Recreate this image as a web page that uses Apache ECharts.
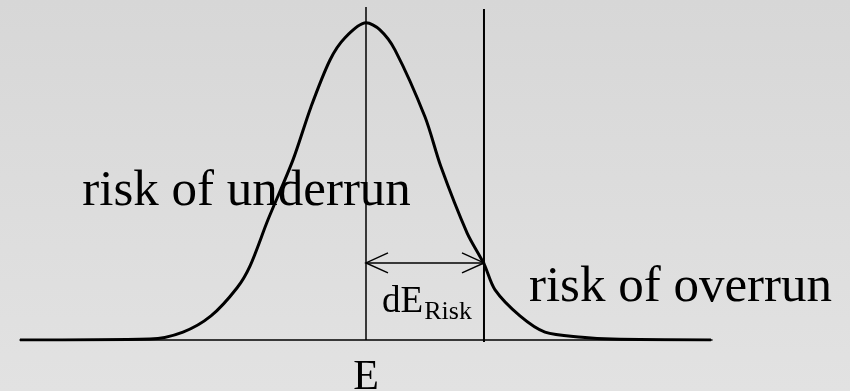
<html>
<head>
    <meta charset="UTF-8">
    <title>Risk of underrun / overrun</title>
    <script src="https://cdn.jsdelivr.net/npm/echarts@6/dist/echarts.min.js"></script>
    <style>
        body {
            padding: 0;
            margin: 0;
            overflow: hidden;
        }
        #chart {
            width: 850px;
            height: 391px;
        }
    </style>
</head>
<body>
<div id="chart"></div>

<script>
    // estimate E at 0, x in "sigma-ish" units, y = relative density (peak = 1)
    const curveX = [-3.0, -1.873, -1.587, -1.344, -1.119, -1.006, -0.850, -0.633, -0.477, -0.312, -0.182, 0,
        0.121, 0.251, 0.512, 0.650, 0.876, 1.023, 1.119, 1.335, 1.552, 1.873, 2.133, 2.991];
    const curveY = [0, 0.003, 0.025, 0.076, 0.164, 0.233, 0.379, 0.568, 0.735, 0.883, 0.953, 1.0,
        0.978, 0.915, 0.703, 0.546, 0.338, 0.240, 0.158, 0.076, 0.025, 0.009, 0.003, 0];
    const estimate = 0;          // E
    const dERisk = 1.023;        // distance from E to the right line
    const arrowLevel = 0.243;
    const eLineTop = 1.05;
    const riskLineTop = 1.044;
    const axisLabels = ['E'];
    const labelTexts = ['risk of underrun', 'risk of overrun', 'dE', 'Risk'];

    const ec = echarts.init(document.getElementById('chart'));
    const serif = '"Liberation Serif", "Times New Roman", serif';

    function textSeries(name, x, y, size) {
        return {
            type: 'scatter',
            symbolSize: 0,
            silent: true,
            clip: false,
            itemStyle: {opacity: 1},
            data: [{name: name, value: [x, y]}],
            label: {
                show: true,
                position: [0, 0],
                align: 'left',
                verticalAlign: 'middle',
                formatter: '{b}',
                color: '#000',
                opacity: 1,
                fontFamily: serif,
                fontSize: size
            }
        };
    }

    const option = {
        animation: false,
        backgroundColor: {
            type: 'linear', x: 0, y: 0, x2: 0, y2: 1,
            colorStops: [
                {offset: 0, color: '#d7d7d7'},
                {offset: 1, color: '#e2e2e2'}
            ]
        },
        grid: {left: 20, right: 138, top: 7, bottom: 51, outerBoundsMode: 'none', containLabel: false},
        xAxis: {
            type: 'value',
            min: -3,
            max: 3,
            splitLine: {show: false},
            axisTick: {show: false},
            axisLine: {show: true, lineStyle: {color: '#000', width: 1.5}},
            axisLabel: {
                customValues: [estimate],
                formatter: () => axisLabels[0],
                color: '#000',
                fontFamily: serif,
                fontSize: 42,
                margin: 17
            }
        },
        yAxis: {
            type: 'value',
            min: 0,
            max: 1.05,
            show: false
        },
        series: [
            {
                type: 'line',
                data: curveX.map((x, i) => [x, curveY[i]]),
                smooth: 0.3,
                symbol: 'none',
                lineStyle: {color: '#000', width: 3}
            },
            {
                type: 'line',
                data: [[estimate, 0], [estimate, eLineTop]],
                symbol: 'none',
                lineStyle: {color: '#000', width: 1.5}
            },
            {
                type: 'line',
                data: [[estimate + dERisk, -0.006], [estimate + dERisk, riskLineTop]],
                symbol: 'none',
                clip: false,
                lineStyle: {color: '#000', width: 2}
            },
            {
                type: 'custom',
                encode: {x: [0, 1], y: 2},
                data: [[estimate, estimate + dERisk, arrowLevel]],
                renderItem: function (params, api) {
                    const a = api.coord([api.value(0), api.value(2)]);
                    const b = api.coord([api.value(1), api.value(2)]);
                    const st = {stroke: '#000', fill: null, lineWidth: 1.5};
                    return {
                        type: 'group',
                        children: [
                            {type: 'line', shape: {x1: a[0], y1: a[1], x2: b[0], y2: b[1]}, style: st},
                            {type: 'polyline', shape: {points: [[a[0] + 22, a[1] - 10], [a[0], a[1]], [a[0] + 22, a[1] + 10]]}, style: st},
                            {type: 'polyline', shape: {points: [[b[0] - 22, b[1] - 10], [b[0], b[1]], [b[0] - 22, b[1] + 10]]}, style: st}
                        ]
                    };
                }
            },
            textSeries(labelTexts[0], -2.46, 0.468, 51),
            textSeries(labelTexts[1], 1.413, 0.165, 51),
            textSeries(labelTexts[2], 0.139, 0.12, 37),
            textSeries(labelTexts[3], 0.505, 0.089, 26)
        ]
    };
    ec.setOption(option);
</script>
</body>
</html>
